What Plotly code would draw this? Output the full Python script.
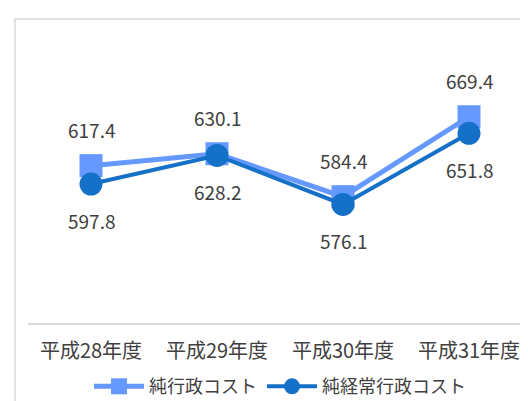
import plotly.graph_objects as go

categories = ["平成28年度", "平成29年度", "平成30年度", "平成31年度"]
net_admin_cost = [617.4, 630.1, 584.4, 669.4]
net_recurring_cost = [597.8, 628.2, 576.1, 651.8]
series_names = ["純行政コスト", "純経常行政コスト"]

light = "#6699FF"
dark = "#1570C8"
txt = "#404040"
grid = "#D9D9D9"
font_family = "Noto Sans CJK JP"

fig = go.Figure()
fig.add_trace(go.Scatter(
    x=categories, y=net_admin_cost, name=series_names[0], mode="lines+markers",
    line=dict(color=light, width=5),
    marker=dict(symbol="square", size=23, color=light),
))
fig.add_trace(go.Scatter(
    x=categories, y=net_recurring_cost, name=series_names[1], mode="lines+markers",
    line=dict(color=dark, width=4),
    marker=dict(symbol="circle", size=23, color=dark),
))

annotations = []
for c, v in zip(categories, net_admin_cost):
    annotations.append(dict(x=c, y=v, text=f"{v:.1f}", showarrow=False, yshift=36,
                            font=dict(size=19, color=txt, family=font_family)))
for c, v in zip(categories, net_recurring_cost):
    annotations.append(dict(x=c, y=v, text=f"{v:.1f}", showarrow=False, yshift=-36,
                            font=dict(size=19, color=txt, family=font_family)))

fig.update_layout(
    width=528, height=401,
    margin=dict(l=20, r=4, t=33, b=80),
    paper_bgcolor="white", plot_bgcolor="white",
    font=dict(family=font_family, color=txt),
    showlegend=True,
    legend=dict(orientation="h", x=0.5, xanchor="center", y=-0.16, yanchor="top",
                font=dict(size=18, color=txt), itemwidth=50, traceorder="normal"),
    annotations=annotations,
    shapes=[dict(type="rect", xref="paper", yref="paper",
                 x0=(7 - 20) / 504, x1=1.2, y0=-0.6, y1=(321 - 10.5) / 288,
                 line=dict(color=grid, width=1.5), fillcolor="rgba(0,0,0,0)", layer="below")],
)
fig.update_xaxes(
    type="category", range=[-0.5, 3.5],
    showline=True, linecolor=grid, linewidth=1.5, showgrid=False,
    ticks="outside", ticklen=9, tickcolor="rgba(0,0,0,0)",
    tickfont=dict(size=20, color=txt, family=font_family),
)
fig.update_yaxes(
    range=[450, 750], tickvals=[750], showticklabels=False, showgrid=True,
    gridcolor=grid, gridwidth=1.5, zeroline=False, showline=False,
)

fig.write_html("out.html")
